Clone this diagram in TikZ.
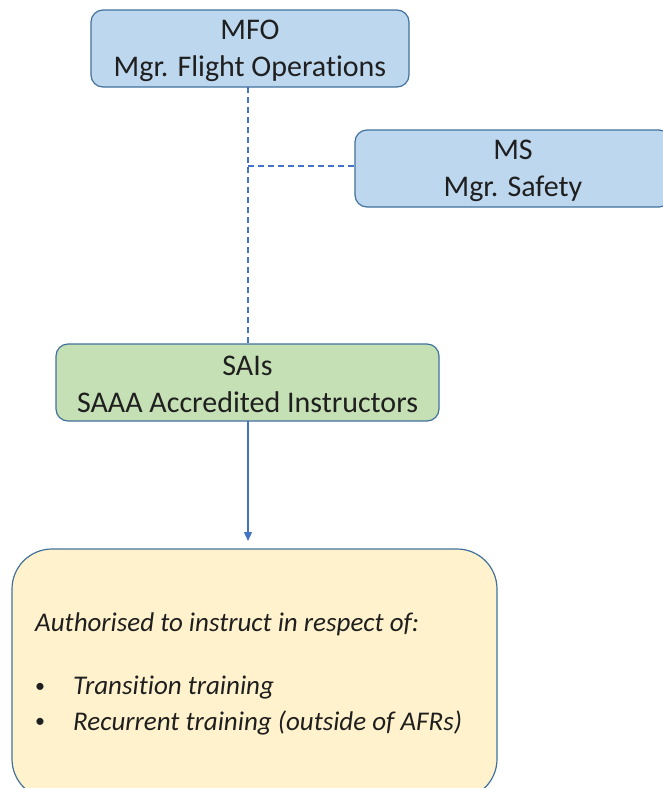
\documentclass[tikz,border=0pt]{standalone}
\usepackage{fontspec}
\setmainfont[Ligatures=NoCommon]{Carlito}
\usetikzlibrary{arrows.meta}
\definecolor{boxline}{HTML}{41719C}
\definecolor{conn}{HTML}{4472C4}
\definecolor{bluefill}{HTML}{BDD7EE}
\definecolor{greenfill}{HTML}{C5E0B4}
\definecolor{yellowfill}{HTML}{FFF2CC}
\tikzset{
  orgbox/.style={draw=boxline, line width=1.2pt, rounded corners=12pt, inner sep=0pt,
    align=center, font=\fontsize{30}{37}\selectfont, text=black!88},
  boxlabel/.style={align=center, font=\fontsize{30}{37}\selectfont, text=black!88, inner sep=0pt},
  dashconn/.style={draw=conn, line width=1.2pt, dash pattern=on 6pt off 4pt},
  solidconn/.style={draw=conn, line width=1.2pt, -{Triangle[length=9pt,width=8pt]}},
  bodytext/.style={font=\fontsize{27}{30}\selectfont\itshape, text=black!88, inner sep=0pt, anchor=west},
  bullettext/.style={font=\fontsize{20}{24}\selectfont, text=black!88, inner sep=0pt}
}
\begin{document}
\begin{tikzpicture}[x=1pt,y=-1pt]
\useasboundingbox (0,0) rectangle (663,788);
\clip (0,0) rectangle (663,788);
\node[orgbox, fill=bluefill, minimum width=318pt, minimum height=77pt] (mfo) at (250,48.5) {};
\node[boxlabel] (mfol) at (250,50.5) {MFO\\Mgr. Flight Operations};
\node[orgbox, fill=bluefill, minimum width=316pt, minimum height=77pt] (ms) at (513,168.5) {};
\node[boxlabel] (msl) at (513,170.5) {MS\\Mgr. Safety};
\node[orgbox, fill=greenfill, minimum width=383pt, minimum height=77pt] (sai) at (247.5,382.5) {};
\node[boxlabel] (sail) at (247.5,384) {SAIs\\SAAA Accredited Instructors};
\node[draw=boxline, line width=1.2pt, rounded corners=40pt, fill=yellowfill, minimum width=485pt, minimum height=250pt, inner sep=0pt] (auth) at (254.5,674) {};
\coordinate (j) at (248,166);
\draw[dashconn] (248,87) -- (248,344);
\draw[dashconn] (j) -- (ms.west |- j);
\draw[solidconn] (248,421) -- (248,541);
\node[bodytext] (t1) at (35,624) {Authorised to instruct in respect of:};
\node[bullettext] (b1) at (40,688) {•};
\node[bullettext] (b2) at (40,723) {•};
\node[bodytext] (t2) at (73,688) {Transition training};
\node[bodytext] (t3) at (73,723) {Recurrent training (outside of AFRs)};
\end{tikzpicture}
\end{document}
